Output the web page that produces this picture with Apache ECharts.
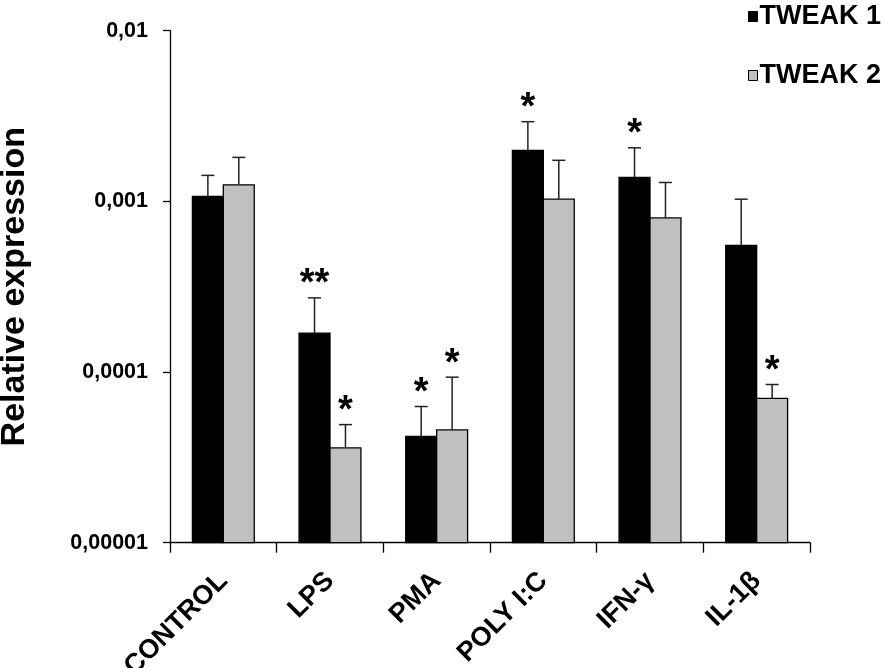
<!DOCTYPE html>
<html>
<head>
<meta charset="utf-8">
<script src="https://cdn.jsdelivr.net/npm/echarts@6/dist/echarts.min.js"></script>
<style>
  html, body { margin: 0; padding: 0; background: #fff; }
  #main { width: 886px; height: 668px; }
</style>
</head>
<body>
<div id="main"></div>
<script>
// categories and values (log scale)
const categories = ['CONTROL', 'LPS', 'PMA', 'POLY I:C', 'IFN-γ', 'IL-1β'];
const tweak1 = [0.00107, 0.000169, 0.0000419, 0.00199, 0.00138, 0.000552];
const tweak1Upper = [0.00142, 0.000272, 0.0000628, 0.00293, 0.00206, 0.00103]; // top of error bar
const tweak1Stars = ['', '**', '*', '*', '*', ''];
const tweak2 = [0.00125, 0.0000359, 0.0000458, 0.00103, 0.000800, 0.0000700];
const tweak2Upper = [0.00181, 0.0000492, 0.0000933, 0.00174, 0.00129, 0.0000845];
const tweak2Stars = ['', '*', '*', '', '', '*'];
const yTickLabels = ['0,00001', '0,0001', '0,001', '0,01'];
const yMin = 0.00001;
const yMax = 0.01;

const FONT = '"Liberation Sans", Arial, sans-serif';

function makeRender(stars, side, fill) {
    return function (params, api) {
        const i = api.value(0);
        const band = api.size([1, 0])[0];
        const w = band * 0.58 / 2;
        const top = api.coord([i, api.value(1)]);
        const base = api.coord([i, yMin]);
        const err = api.coord([i, api.value(2)]);
        const x0 = side === 0 ? top[0] - w : top[0];
        const mid = x0 + w / 2;
        const children = [
            {
                type: 'rect',
                shape: { x: x0, y: top[1], width: w, height: base[1] - top[1] },
                style: { fill: fill, stroke: '#000', lineWidth: 1.3 }
            },
            {
                type: 'line',
                shape: { x1: mid, y1: top[1], x2: mid, y2: err[1] },
                style: { stroke: '#222', lineWidth: 1.5 }
            },
            {
                type: 'line',
                shape: { x1: mid - 6.5, y1: err[1], x2: mid + 6.5, y2: err[1] },
                style: { stroke: '#222', lineWidth: 1.5 }
            }
        ];
        const s = stars[params.dataIndex];
        if (s) {
            children.push({
                type: 'text',
                style: {
                    text: s, x: mid, y: err[1] + 6,
                    align: 'center', verticalAlign: 'bottom',
                    font: 'bold 38px ' + FONT, fill: '#000'
                }
            });
        }
        return { type: 'group', children: children };
    };
}

const chart = echarts.init(document.getElementById('main'));

chart.setOption({
    animation: false,
    backgroundColor: '#fff',
    grid: { left: 170, right: 76, top: 30.7, bottom: 125.3, containLabel: false, outerBoundsMode: 'none' },
    legend: {
        orient: 'vertical',
        right: 0,
        top: -2,
        icon: 'rect',
        itemWidth: 9,
        itemHeight: 10,
        itemGap: 32,
        itemStyle: { borderColor: '#000', borderWidth: 1 },
        textStyle: { fontFamily: FONT, fontWeight: 'bold', fontSize: 27, color: '#000', padding: [0, 0, 0, -3] },
        data: ['TWEAK 1', 'TWEAK 2']
    },
    xAxis: {
        type: 'category',
        data: categories,
        axisLine: { lineStyle: { color: '#000', width: 1.3 } },
        axisTick: { show: true, length: 10, lineStyle: { color: '#000', width: 1.3 } },
        axisLabel: {
            interval: 0, rotate: 45, margin: 34,
            fontFamily: FONT, fontWeight: 'bold', fontSize: 27, color: '#000'
        },
        splitLine: { show: false }
    },
    yAxis: {
        type: 'log',
        logBase: 10,
        min: yMin,
        max: yMax,
        interval: 1,
        name: 'Relative expression',
        nameLocation: 'middle',
        nameGap: 138,
        nameTextStyle: { fontFamily: FONT, fontWeight: 'bold', fontSize: 34, color: '#000' },
        axisLine: { show: true, lineStyle: { color: '#000', width: 1.3 } },
        axisTick: { show: true, length: 7, lineStyle: { color: '#000', width: 1.3 } },
        minorTick: { show: false },
        splitLine: { show: false },
        axisLabel: {
            margin: 22,
            fontFamily: FONT, fontWeight: 'bold', fontSize: 21.5, color: '#000',
            formatter: function (v) {
                const k = Math.round(Math.log10(v)) + 5;
                return yTickLabels[k] !== undefined ? yTickLabels[k] : '';
            }
        }
    },
    series: [
        {
            name: 'TWEAK 1',
            type: 'custom',
            color: '#000000',
            itemStyle: { color: '#000000' },
            renderItem: makeRender(tweak1Stars, 0, '#000000'),
            encode: { x: 0, y: [1, 2] },
            data: categories.map((c, i) => [i, tweak1[i], tweak1Upper[i]])
        },
        {
            name: 'TWEAK 2',
            type: 'custom',
            color: '#c0c0c0',
            itemStyle: { color: '#c0c0c0' },
            renderItem: makeRender(tweak2Stars, 1, '#c0c0c0'),
            encode: { x: 0, y: [1, 2] },
            data: categories.map((c, i) => [i, tweak2[i], tweak2Upper[i]])
        }
    ]
});
</script>
</body>
</html>
